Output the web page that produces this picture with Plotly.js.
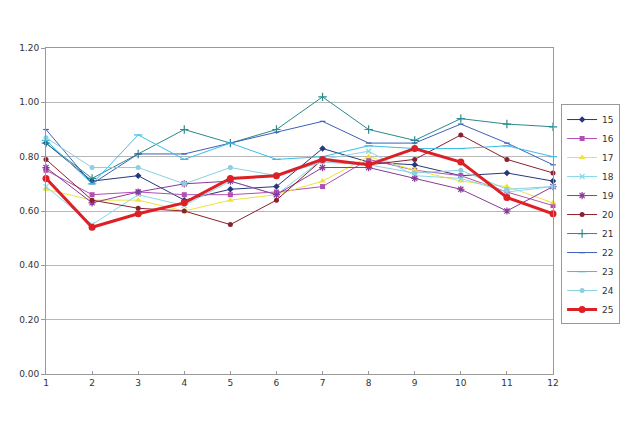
<!DOCTYPE html>
<html>
<head>
<meta charset="utf-8">
<script src="https://cdn.plot.ly/plotly-3.0.1.min.js"></script>
<style>html,body{margin:0;padding:0;background:#fff;}#chart{width:620px;height:439px;}</style>
</head>
<body>
<div id="chart"></div>
<script>
var months = [1,2,3,4,5,6,7,8,9,10,11,12];
var seriesNames = ["15","16","17","18","19","20","21","22","23","24","25"];
var s15 = [0.85,0.71,0.73,0.64,0.68,0.69,0.83,0.78,0.77,0.73,0.74,0.71];
var s16 = [0.75,0.66,0.67,0.66,0.66,0.67,0.69,0.79,0.75,0.73,0.67,0.62];
var s17 = [0.68,0.64,0.64,0.60,0.64,0.66,0.71,0.80,0.75,0.71,0.69,0.63];
var s18 = [0.69,0.55,0.66,0.62,0.71,0.66,0.79,0.82,0.73,0.72,0.67,0.69];
var s19 = [0.76,0.63,0.67,0.70,0.71,0.66,0.76,0.76,0.72,0.68,0.60,0.69];
var s20 = [0.79,0.64,0.61,0.60,0.55,0.64,0.79,0.77,0.79,0.88,0.79,0.74];
var s21 = [0.85,0.72,0.81,0.90,0.85,0.90,1.02,0.90,0.86,0.94,0.92,0.91];
var s22 = [0.90,0.70,0.81,0.81,0.85,0.89,0.93,0.85,0.85,0.92,0.85,0.77];
var s23 = [0.86,0.70,0.88,0.79,0.85,0.79,0.80,0.84,0.83,0.83,0.84,0.80];
var s24 = [0.87,0.76,0.76,0.70,0.76,0.73,0.78,0.77,0.74,0.75,0.68,0.69];
var s25 = [0.72,0.54,0.59,0.63,0.72,0.73,0.79,0.77,0.83,0.78,0.65,0.59];
var yTickVals = [0,0.2,0.4,0.6,0.8,1.0,1.2];

var values = [s15,s16,s17,s18,s19,s20,s21,s22,s23,s24,s25];
var colors = ["#27387a","#b24fb2","#ece43a","#88d8ea","#8a3a9a","#8a2030","#2a8a8c","#3d60b8","#3cbde8","#8ccfe0","#dd1f26"];
var symbols = ["diamond","square","triangle-up","x-thin","asterisk","circle","cross-thin","line-ew","line-ew","circle","circle"];
var msizes = [5,5,6,5,6,5,6,4,6,5,7];
var widths = [1,1,1,1,1,1,1,1,1,1,3];

var traces = seriesNames.map(function(n,i){
  var thin = (symbols[i].indexOf("thin")>=0||symbols[i]=="asterisk"||symbols[i]=="line-ew");
  return {
    x: months, y: values[i], name: n, type: "scatter", mode: "lines+markers",
    cliponaxis: false,
    line: {color: colors[i], width: widths[i]},
    marker: {symbol: symbols[i], size: msizes[i], color: colors[i],
             line: {color: colors[i], width: thin ? 1.2 : 0}}
  };
});

var layout = {
  width: 620, height: 439,
  margin: {l:46, r:67, t:48, b:65, autoexpand: false},
  paper_bgcolor: "#fff", plot_bgcolor: "#fff",
  font: {family: "DejaVu Sans, sans-serif", size: 9, color: "#333"},
  xaxis: {range:[1,12], tickvals: months, ticks: "inside", ticklen: 3, tickcolor: "#999",
          showgrid: false, zeroline: false, showline: true, linecolor: "#999", linewidth: 1,
          mirror: true, tickfont: {size: 9, color: "#333"}},
  yaxis: {range:[0,1.2], tickvals: yTickVals, tickformat: ".2f", ticks: "outside", ticklen: 4, tickcolor: "#999",
          showgrid: true, gridcolor: "#b8b8b8", gridwidth: 1, zeroline: false,
          showline: true, linecolor: "#999", linewidth: 1, mirror: true,
          tickfont: {size: 9, color: "#333"}},
  showlegend: true,
  legend: {xref: "container", yref: "container", x: 0.905, xanchor: "left", y: 0.763, yanchor: "top",
           bordercolor: "#999", borderwidth: 1,
           font: {size: 9, color: "#333"}, itemwidth: 30, tracegroupgap: 0, bgcolor: "#fff"}
};

Plotly.newPlot("chart", traces, layout, {displayModeBar: false, staticPlot: true});
</script>
</body>
</html>
